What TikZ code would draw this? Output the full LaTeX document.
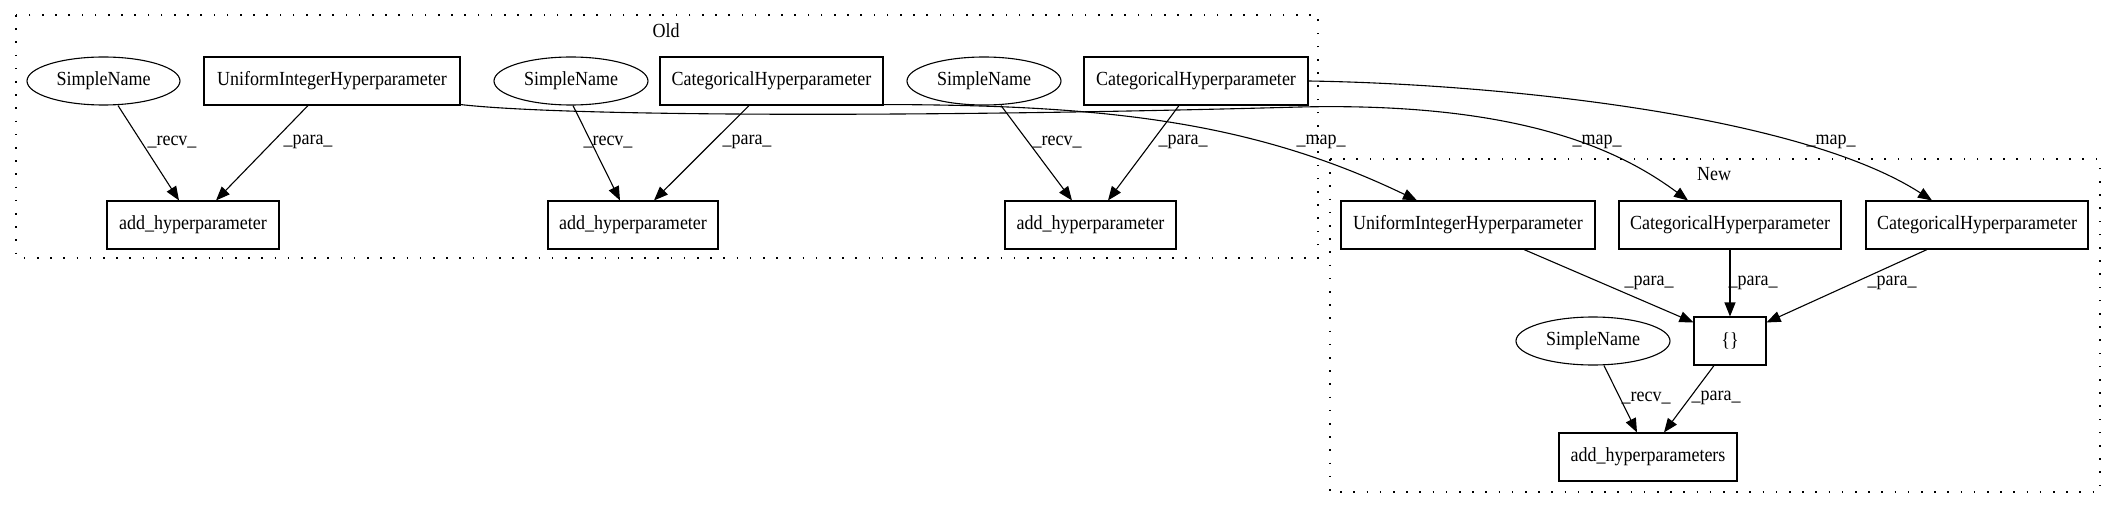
\documentclass[tikz,border=0pt]{standalone}
\usepackage{fontspec}
\setmainfont{Liberation Serif}[FakeStretch=0.9]
\usetikzlibrary{shapes.geometric,arrows.meta,calc}
\begin{document}
\begin{tikzpicture}[x=0.5pt,y=-0.5pt,
 every node/.style={font=\fontsize{10}{12}\selectfont, inner sep=0pt},
 box/.style={draw, line width=0.55pt, rectangle, minimum height=24pt},
 oval/.style={draw, line width=0.55pt, ellipse, minimum width=77pt, minimum height=24pt},
 arr/.style={-{Triangle[length=7pt,width=5.5pt]}, line width=0.55pt},
 lbl/.style={},
 cluster/.style={draw, line width=0.7pt, dash pattern=on 0.8pt off 5.8pt}]
\useasboundingbox (0,0) rectangle (2116,508);
% clusters
\draw[cluster] (16,15) rectangle (1318,258);
\draw[cluster] (1330,159) rectangle (2100,492);
\node (oldlbl) at (666,31) {Old};
\node (newlbl) at (1714,174) {New};
% Old nodes
\node[oval, minimum width=76.5pt] (sn1) at (103.5,81) {SimpleName};
\node[box, minimum width=128pt] (uih1) at (332,81) {UniformIntegerHyperparameter};
\node[oval] (sn2) at (571,81) {SimpleName};
\node[box, minimum width=111.5pt] (cat1) at (771.5,81) {CategoricalHyperparameter};
\node[oval] (sn3) at (984,81) {SimpleName};
\node[box, minimum width=112pt] (cat2) at (1196,81) {CategoricalHyperparameter};
\node[box, minimum width=86pt] (add1) at (193,225) {add\_hyperparameter};
\node[box, minimum width=85pt] (add2) at (633,225) {add\_hyperparameter};
\node[box, minimum width=85.5pt] (add3) at (1090.5,225) {add\_hyperparameter};
% New nodes
\node[box, minimum width=127pt] (nuih) at (1468,225) {UniformIntegerHyperparameter};
\node[box, minimum width=111pt] (ncat1) at (1730,225) {CategoricalHyperparameter};
\node[box, minimum width=111pt] (ncat2) at (1977,225) {CategoricalHyperparameter};
\node[box, minimum width=36pt] (brace) at (1730,341) {\{\}};
\node[oval] (nsn) at (1593,341) {SimpleName};
\node[box, minimum width=89pt] (nadd) at (1648,457) {add\_hyperparameters};
% Old edges
\draw[arr] ($(sn1.south)+(14.5,0)$) -- ($(add1.north)+(-14,0)$);
\draw[arr] ($(uih1.south)+(-24,0)$) -- ($(add1.north)+(23,0)$);
\draw[arr] ($(sn2.south)+(2,0)$) -- ($(add2.north)+(-13,0)$);
\draw[arr] ($(cat1.south)+(-22.5,0)$) -- ($(add2.north)+(21,0)$);
\draw[arr] ($(sn3.south)+(17,0)$) -- ($(add3.north)+(-18.5,0)$);
\draw[arr] ($(cat2.south)+(-17,0)$) -- ($(add3.north)+(17.5,0)$);
\node[lbl] (l1) at (172,142) {\_recv\_};
\node[lbl] (l2) at (308,142) {\_para\_};
\node[lbl] (l3) at (608,142) {\_recv\_};
\node[lbl] (l4) at (747,142) {\_para\_};
\node[lbl] (l5) at (1057,142) {\_recv\_};
\node[lbl] (l6) at (1183,142) {\_para\_};
% map edges
\draw[arr] ($(uih1.south east)+(0,-1)$) .. controls (560,116) and (900,118) .. (1300,107)
  .. controls (1520,102) and (1620,150) .. ($(ncat1.north)+(-42,0)$);
\draw[arr] ($(cat1.south east)+(0,-1)$) .. controls (1100,105) and (1250,120) .. ($(nuih.north)+(-51,0)$);
\draw[arr] (cat2.east) .. controls (1500,84) and (1800,115) .. ($(ncat2.north)+(-45,0)$);
\node[lbl] (m1) at (1321,142) {\_map\_};
\node[lbl] (m2) at (1597,142) {\_map\_};
\node[lbl] (m3) at (1831,142) {\_map\_};
% New edges
\draw[arr] ($(nuih.south)+(56,0)$) -- ($(brace.north west)+(0,6)$);
\draw[arr] (ncat1.south) -- (brace.north);
\draw[arr] ($(ncat2.south)+(-50,0)$) -- ($(brace.north east)+(0,6)$);
\draw[arr] ($(nsn.south)+(11,0)$) -- ($(nadd.north)+(-11,0)$);
\draw[arr] ($(brace.south)+(-16,0)$) -- ($(nadd.north)+(16,0)$);
\node[lbl] (n1) at (1649,283) {\_para\_};
\node[lbl] (n2) at (1753,283) {\_para\_};
\node[lbl] (n3) at (1892,283) {\_para\_};
\node[lbl] (n4) at (1646,398) {\_recv\_};
\node[lbl] (n5) at (1716,398) {\_para\_};
\end{tikzpicture}
\end{document}
